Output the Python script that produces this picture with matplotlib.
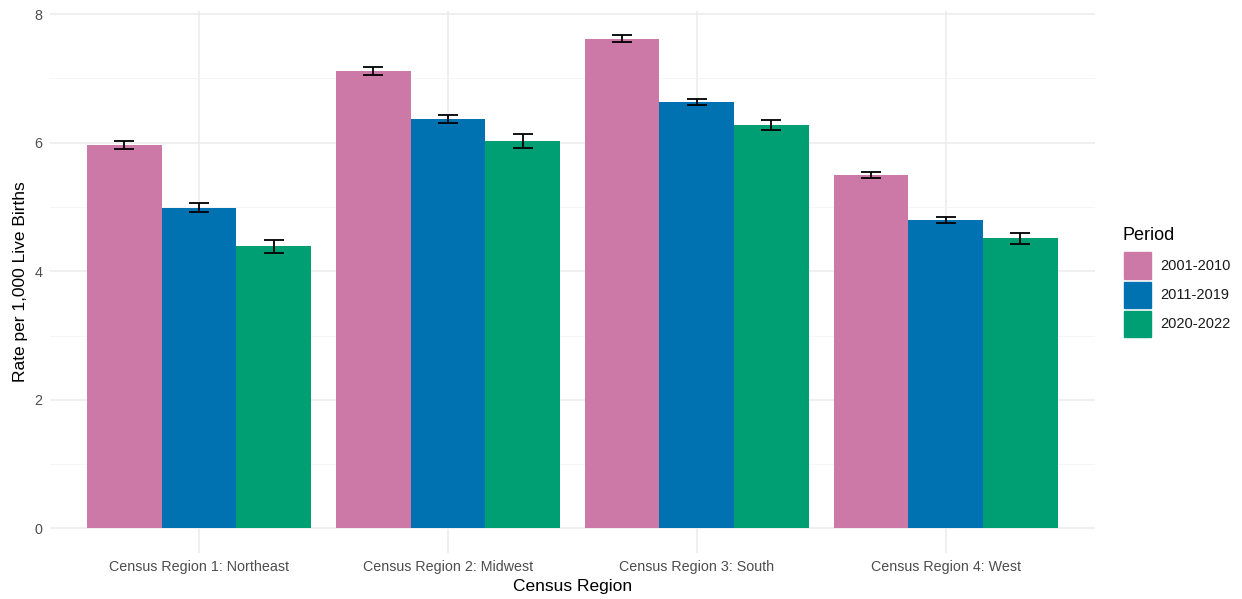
import matplotlib
matplotlib.use("Agg")
import matplotlib.pyplot as plt
from matplotlib.patches import Rectangle
import numpy as np

plt.rcParams['font.family'] = ['Liberation Sans', 'DejaVu Sans']

regions = ["Census Region 1: Northeast", "Census Region 2: Midwest",
           "Census Region 3: South", "Census Region 4: West"]
periods = ["2001-2010", "2011-2019", "2020-2022"]
colors = ["#CC79A7", "#0072B2", "#009E73"]

rate_2001_2010 = [5.96, 7.12, 7.62, 5.50]
rate_2011_2019 = [4.99, 6.37, 6.64, 4.80]
rate_2020_2022 = [4.39, 6.03, 6.27, 4.51]
rates = [rate_2001_2010, rate_2011_2019, rate_2020_2022]

err_2001_2010 = [0.065, 0.062, 0.050, 0.052]
err_2011_2019 = [0.065, 0.065, 0.047, 0.052]
err_2020_2022 = [0.100, 0.110, 0.078, 0.088]
errs = [err_2001_2010, err_2011_2019, err_2020_2022]

yticks = [0, 2, 4, 6, 8]

W, H = 1242, 599
fig = plt.figure(figsize=(W / 100, H / 100), dpi=100)
left, right, top, bottom = 49.6, 1095, 11, 553
ax = fig.add_axes([left / W, 1 - bottom / H, (right - left) / W, (bottom - top) / H])

x = np.arange(len(regions))
dodge = 0.9
bw = dodge / len(periods)
for i, (vals, e, c) in enumerate(zip(rates, errs, colors)):
    pos = x - dodge / 2 + bw * (i + 0.5)
    ax.bar(pos, vals, width=bw, color=c, zorder=2, linewidth=0)
    ax.errorbar(pos, vals, yerr=e, fmt='none', ecolor='black',
                elinewidth=1.3, capsize=7.4, capthick=1.3, zorder=3)

ax.set_xlim(-0.6, len(regions) - 1 + 0.6)
ax.set_ylim(-0.384, 8.05)
ax.set_xticks(x)
ax.set_xticklabels(regions)
ax.set_yticks(yticks)
ax.set_yticks([1, 3, 5, 7], minor=True)
ax.grid(which='major', color='#EBEBEB', linewidth=1.1, zorder=0)
ax.grid(which='minor', axis='y', color='#F4F4F4', linewidth=0.6, zorder=0)
ax.set_axisbelow(True)
for s in ax.spines.values():
    s.set_visible(False)
ax.tick_params(which='both', length=0, colors='#4D4D4D', labelsize=10.3)
ax.tick_params(axis='x', pad=5)
ax.tick_params(axis='y', pad=5)
ax.set_xlabel("Census Region", fontsize=12.5, color='black', labelpad=4)
ax.set_ylabel("Rate per 1,000 Live Births", fontsize=12.5, color='black', labelpad=5)

# legend drawn in figure pixel coordinates
def fx(px):
    return px / W

def fy(py):
    return 1 - py / H

fig.text(fx(1123), fy(235), "Period", fontsize=13, va='center', ha='left')
key_tops = [252.5, 281.5, 310.5]
for p, c, kt in zip(periods, colors, key_tops):
    fig.patches.append(Rectangle((fx(1124), fy(kt + 26.5)), 26.5 / W, 26.5 / H,
                                 transform=fig.transFigure, color=c, figure=fig))
    fig.text(fx(1160), fy(kt + 13.5), p, fontsize=10.5, va='center', ha='left',
             color='#1A1A1A')

fig.savefig("out.png", dpi=100)
